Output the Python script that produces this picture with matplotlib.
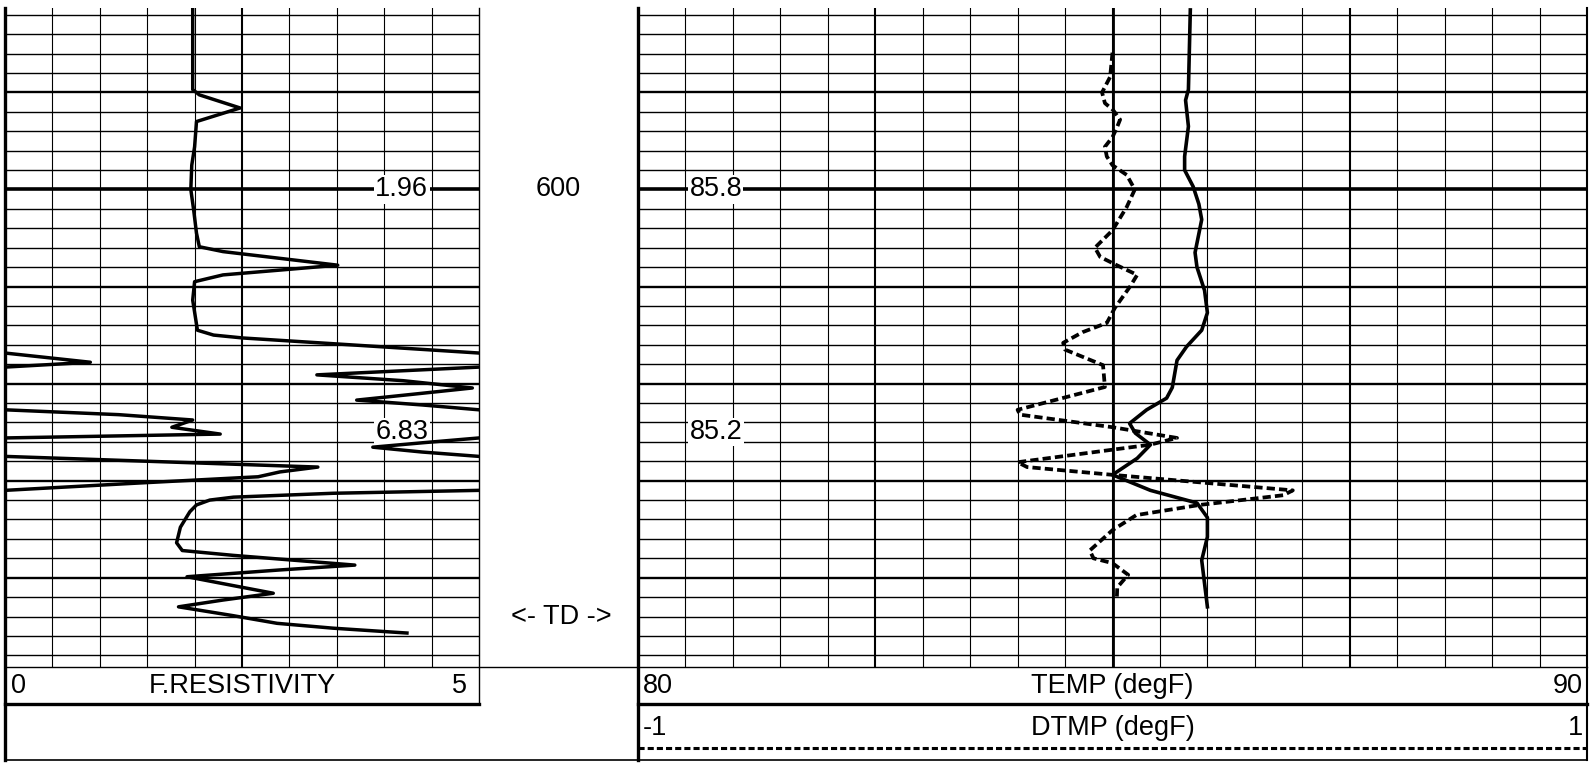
import numpy as np
import matplotlib.pyplot as plt

plt.rcParams['font.family'] = ['Liberation Sans', 'DejaVu Sans']

W, H = 1595, 764

# depth window of the log (ft)
depth_top, depth_bottom = 581.3, 649.2
grid_step = 2

# F.RESISTIVITY (values above 5 wrap back into the track)
res_depth = [581.3, 589.7, 590.25, 591.6, 593.0, 595.6, 597.5, 600.0, 602.1, 604.5,
             605.9, 606.4, 607.8, 608.8, 609.5, 611.4, 614.5, 615.0, 615.3, 616.1,
             616.85, 617.8, 618.3, 619.1, 619.7, 620.45, 621.1, 621.7, 622.2, 622.7,
             623.2, 623.75, 624.5, 625.2, 625.6, 626.1, 626.55, 627.05, 627.5, 628.0,
             628.6, 629.1, 629.6, 630.25, 631.0, 631.3, 631.7, 632.0, 632.5, 633.2,
             634.8, 636.4, 637.2, 637.7, 638.7, 639.2, 639.9, 640.8, 641.6, 642.3,
             643.0, 643.9, 644.7, 645.2, 645.7]
res_value = [1.98, 1.98, 2.05, 2.48, 2.02, 2.00, 1.97, 1.96, 1.99, 2.02,
             2.05, 2.30, 3.51, 2.30, 2.00, 1.98, 2.03, 2.20, 2.51, 3.80,
             5.00, 5.90, 5.00, 3.29, 4.20, 4.93, 4.30, 3.71, 4.40, 5.00,
             6.20, 6.98, 6.76, 7.27, 5.00, 4.40, 3.88, 4.40, 5.00, 6.50,
             8.30, 7.90, 7.67, 6.40, 5.00, 3.46, 2.41, 2.16, 2.02, 1.95,
             1.85, 1.81, 1.87, 2.41, 3.69, 2.90, 1.92, 2.40, 2.83, 2.30,
             1.83, 2.40, 2.87, 3.46, 4.24]

# TEMP (degF)
temp_depth = [581.5, 589.7, 590.8, 593.5, 596.6, 598.0, 599.7, 601.5, 603.1, 606.5,
              608.0, 610.4, 612.7, 614.5, 616.2, 617.6, 620.4, 621.5, 622.7, 624.1,
              625.1, 626.3, 627.7, 629.4, 631.0, 632.3, 633.8, 635.8, 638.2, 640.6,
              643.0]
temp_value = [85.82, 85.80, 85.77, 85.80, 85.76, 85.76, 85.85, 85.91, 85.94, 85.87,
              85.89, 85.97, 86.00, 85.94, 85.78, 85.68, 85.63, 85.57, 85.36, 85.18,
              85.24, 85.40, 85.26, 85.00, 85.40, 85.89, 86.00, 86.00, 85.94, 85.97,
              86.00]

# DTMP (degF)
dtmp_depth = [585.9, 588.4, 590.0, 591.1, 591.8, 592.8, 593.65, 594.6, 595.6, 596.6,
              597.5, 598.5, 600.0, 601.8, 604.2, 606.0, 606.95, 607.8, 608.8, 610.0,
              612.2, 613.75, 614.7, 615.8, 616.5, 618.1, 620.35, 622.7, 623.2, 624.5,
              625.6, 626.3, 628.1, 628.6, 629.4, 631.0, 631.5, 632.5, 633.55, 635.1,
              637.2, 638.0, 638.5, 639.7, 641.0, 642.3]
dtmp_value = [0.0, -0.005, -0.022, -0.016, 0.001, 0.016, 0.009, 0.0, -0.016, -0.012,
              0.0, 0.03, 0.047, 0.03, 0.0, -0.037, -0.026, 0.009, 0.052, 0.037,
              0.005, -0.012, -0.063, -0.104, -0.10, -0.02, -0.016, -0.20, -0.195, 0.001,
              0.136, 0.079, -0.20, -0.18, 0.0, 0.38, 0.36, 0.184, 0.05, 0.0,
              -0.048, -0.04, 0.0, 0.033, 0.01, 0.009]

label_depths = [600, 625]
res_labels = ['1.96', '6.83']
temp_labels = ['85.8', '85.2']
depth_label = '600'
td_depth = 644

FS = 19.5

fig = plt.figure(figsize=(W / 100, H / 100), dpi=100)


def px_axes(x0, y0, x1, y1, **kw):
    return fig.add_axes([x0 / W, 1 - y1 / H, (x1 - x0) / W, (y1 - y0) / H], **kw)


def draw_grid(ax, x0, x1, ndiv, heavy_every):
    for i, x in enumerate(np.linspace(x0, x1, ndiv + 1)[1:-1], start=1):
        lw = 1.5 if i % heavy_every == 0 else 0.8
        ax.axvline(x, color='black', lw=lw, zorder=1)
    for d in np.arange(582, depth_bottom, grid_step):
        if d % 100 == 0:
            lw = 2.6
        elif d % 10 == 0:
            lw = 1.7
        else:
            lw = 1.0
        ax.axhline(d, color='black', lw=lw, zorder=1)


# frame (borders and header boxes), pixel coordinates
fr = fig.add_axes([0, 0, 1, 1], zorder=0)
fr.set_xlim(0, W)
fr.set_ylim(H, 0)
fr.axis('off')
L0, L1, R0, R1 = 5, 479, 638, 1587
top, gbot, hline, dline, bot = 8, 667, 704, 748, 760
fr.plot([L0, L0], [top, bot], color='black', lw=2.4)
fr.plot([L1, L1], [top, hline], color='black', lw=1.0)
fr.plot([R0, R0], [top, bot], color='black', lw=2.4)
fr.plot([R1, R1], [top, bot], color='black', lw=1.5)
fr.plot([L0, R1], [gbot, gbot], color='black', lw=1.0)
fr.plot([L0, R1], [bot, bot], color='black', lw=1.2)
fr.plot([L0, L1], [hline, hline], color='black', lw=2.4)
fr.plot([R0, R1], [hline, hline], color='black', lw=2.4)
fr.plot([R0, R1], [dline, dline], color='black', lw=2.2, linestyle=(0, (2.0, 1.0)))

hdr = dict(fontsize=FS, va='center', color='black')
fr.text(L0 + 6, 686, '0', ha='left', **hdr)
fr.text(L1 - 12, 686, '5', ha='right', **hdr)
fr.text(242, 686, 'F.RESISTIVITY', ha='center', **hdr)
fr.text(R0 + 5, 686, '80', ha='left', **hdr)
fr.text(R1 - 4, 686, '90', ha='right', **hdr)
fr.text((R0 + R1) / 2, 686, 'TEMP (degF)', ha='center', **hdr)
fr.text(R0 + 5, 728, '-1', ha='left', **hdr)
fr.text(R1 - 4, 728, '1', ha='right', **hdr)
fr.text((R0 + R1) / 2, 728, 'DTMP (degF)', ha='center', **hdr)

# resistivity track
ax_r = px_axes(L0, top, L1, gbot, zorder=1)
ax_r.set_xlim(0, 5)
ax_r.set_ylim(depth_bottom, depth_top)
ax_r.axis('off')
draw_grid(ax_r, 0, 5, 10, 5)
rv = np.array(res_value)
ax_r.plot(rv, res_depth, color='black', lw=2.5, zorder=3)
ax_r.plot(rv - 5, res_depth, color='black', lw=2.5, zorder=3)
for d, s in zip(label_depths, res_labels):
    ax_r.text(0.837, d, s, transform=ax_r.get_yaxis_transform(), ha='center',
              va='center', fontsize=FS, zorder=2,
              bbox=dict(facecolor='white', edgecolor='none', pad=1.0))

# depth track
ax_d = px_axes(L1, top, R0, gbot, zorder=1)
ax_d.set_xlim(0, 1)
ax_d.set_ylim(depth_bottom, depth_top)
ax_d.axis('off')
ax_d.text(0.5, label_depths[0], depth_label, ha='center', va='center', fontsize=FS)
ax_d.text(0.52, td_depth, '<- TD ->', ha='center', va='center', fontsize=FS)

# temperature track
ax_t = px_axes(R0, top, R1, gbot, zorder=1)
ax_t.set_xlim(80, 90)
ax_t.set_ylim(depth_bottom, depth_top)
ax_t.axis('off')
draw_grid(ax_t, 80, 90, 20, 5)
ax_t.axvline(85, color='black', lw=2.0, zorder=1)
ax_t.plot(temp_value, temp_depth, color='black', lw=2.6, zorder=3)
for d, s in zip(label_depths, temp_labels):
    ax_t.text(0.082, d, s, transform=ax_t.get_yaxis_transform(), ha='center',
              va='center', fontsize=FS, zorder=2,
              bbox=dict(facecolor='white', edgecolor='none', pad=1.0))

ax_dt = ax_t.twiny()
ax_dt.set_xlim(-1, 1)
ax_dt.set_ylim(depth_bottom, depth_top)
ax_dt.axis('off')
ax_dt.plot(dtmp_value, dtmp_depth, color='black', lw=2.7,
           linestyle=(0, (2.2, 1.1)), zorder=3)

fig.savefig('out.png', dpi=100)
